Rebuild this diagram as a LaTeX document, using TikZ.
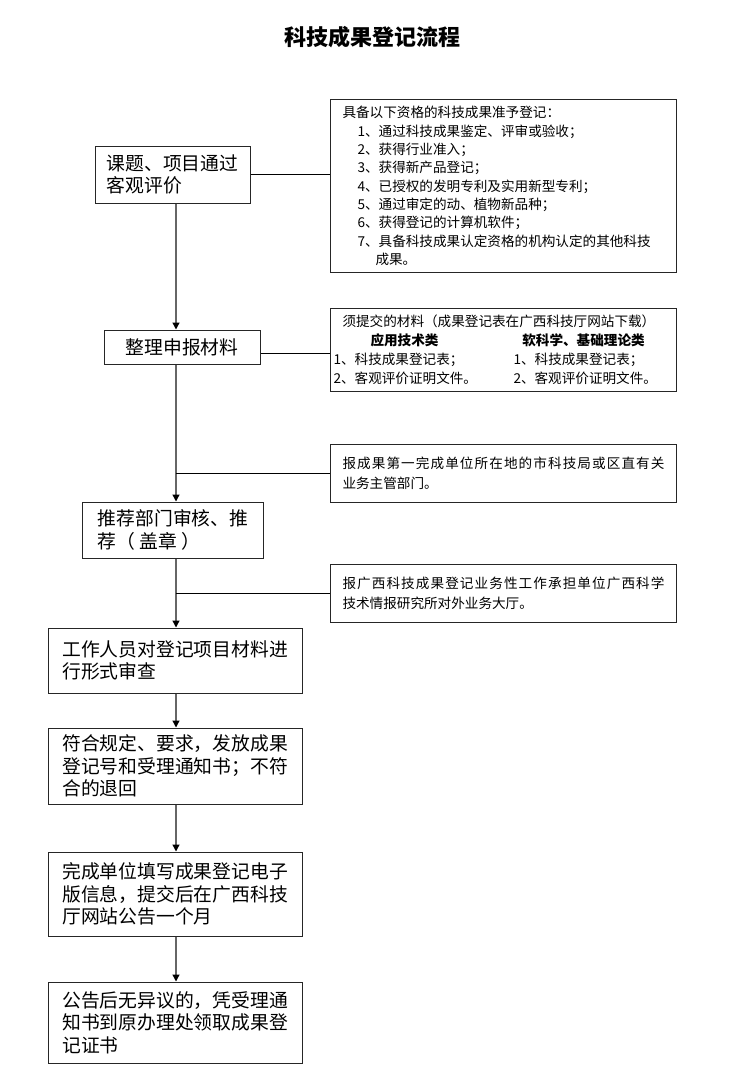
\documentclass[tikz,border=0pt]{standalone}
\usepackage{fontspec}
\setmainfont{Noto Sans CJK SC}
\XeTeXlinebreaklocale "zh"
\XeTeXlinebreakskip=0pt plus 2pt
\usetikzlibrary{arrows.meta}

\begin{document}
\begin{tikzpicture}[
    x=1pt, y=-1pt,
    stepbox/.style={rectangle, draw=black!85, line width=1pt, align=left, inner sep=0pt, font=\fontsize{18.8}{22.5}\selectfont},
    note/.style={rectangle, draw=black!85, line width=1pt, anchor=north west, inner xsep=12pt, inner ysep=0pt, text width=322pt, font=\fontsize{13.6}{18.3}\selectfont},
    arrow/.style={-{Triangle[width=7pt,length=7pt,color=black]}, draw=black!60, line width=1.3pt},
    link/.style={draw=black, line width=0.9pt}
]
    \useasboundingbox (0,0) rectangle (743,1084);
    \node[font=\fontsize{22}{26}\selectfont\bfseries] (title) at (372,37) {科技成果登记流程};
    \coordinate (spine) at (176,0);

    \node[stepbox, minimum width=155pt, minimum height=57pt] (eval) at (172.5,174.5) {课题、项目通过\\客观评价};
    \node[stepbox, minimum width=156pt, minimum height=34pt] (prepare) at (182,347) {整理申报材料};
    \node[stepbox, minimum width=181pt, minimum height=56pt] (recommend) at (173,530) {推荐部门审核、推\\荐（ 盖章 ）};
    \node[stepbox, minimum width=254pt, minimum height=65pt] (check) at (175,660.5) {工作人员对登记项目材料进\\行形式审查};
    \node[stepbox, minimum width=254pt, minimum height=76pt] (issue) at (175,766) {符合规定、要求，发放成果\\登记号和受理通知书；不符\\合的退回};
    \node[stepbox, minimum width=254pt, minimum height=84pt] (fillin) at (175,894) {完成单位填写成果登记电子\\版信息，提交后在广西科技\\厅网站公告一个月};
    \node[stepbox, minimum width=254pt, minimum height=81pt] (certify) at (175,1022.5) {公告后无异议的，凭受理通\\知书到原办理处领取成果登\\记证书};

    \node[note, align=left, minimum height=173pt] (cond) at (330,99) {具备以下资格的科技成果准予登记：\\
        \hspace*{15pt}1、通过科技成果鉴定、评审或验收；\\
        \hspace*{15pt}2、获得行业准入；\\
        \hspace*{15pt}3、获得新产品登记；\\
        \hspace*{15pt}4、已授权的发明专利及实用新型专利；\\
        \hspace*{15pt}5、通过审定的动、植物新品种；\\
        \hspace*{15pt}6、获得登记的计算机软件；\\
        \hspace*{15pt}7、具备科技成果认定资格的机构认定的其他科技\\
        \hspace*{33pt}成果。};
    \node[note, align=left, inner xsep=3pt, text width=340pt, minimum height=83pt, font=\fontsize{13.6}{19}\selectfont] (material) at (330,308) {\hspace*{9pt}须提交的材料（成果登记表在广西科技厅网站下载）\\
        \makebox[142pt]{\bfseries 应用技术类}\hspace*{40pt}\makebox[136pt]{\bfseries 软科学、基础理论类}\\
        \makebox[180pt][l]{1、科技成果登记表；}1、科技成果登记表；\\
        \makebox[180pt][l]{2、客观评价证明文件。}2、客观评价证明文件。};
    \node[note, align=justify, minimum height=58pt, font=\fontsize{13.6}{19.5}\selectfont] (local) at (330,444) {报成果第一完成单位所在地的市科技局或区直有关\linebreak 业务主管部门。};
    \node[note, align=justify, minimum height=58pt, font=\fontsize{13.6}{19.5}\selectfont] (hall) at (330,564) {报广西科技成果登记业务性工作承担单位广西科学\linebreak 技术情报研究所对外业务大厅。};

    \draw[arrow] (eval.south -| spine) -- (prepare.north -| spine);
    \draw[arrow] (prepare.south -| spine) -- (recommend.north -| spine);
    \draw[arrow] (recommend.south -| spine) -- (check.north -| spine);
    \draw[arrow] (check.south -| spine) -- (issue.north -| spine);
    \draw[arrow] (issue.south -| spine) -- (fillin.north -| spine);
    \draw[arrow] (fillin.south -| spine) -- (certify.north -| spine);

    \draw[link] (eval.east) -- (eval.east -| cond.west);
    \draw[link] ([yshift=-6pt]prepare.east) -- ([yshift=-6pt]prepare.east -| material.west);
    \draw[link] (local.west -| spine) -- (local.west);
    \draw[link] (hall.west -| spine) -- (hall.west);
\end{tikzpicture}
\end{document}
